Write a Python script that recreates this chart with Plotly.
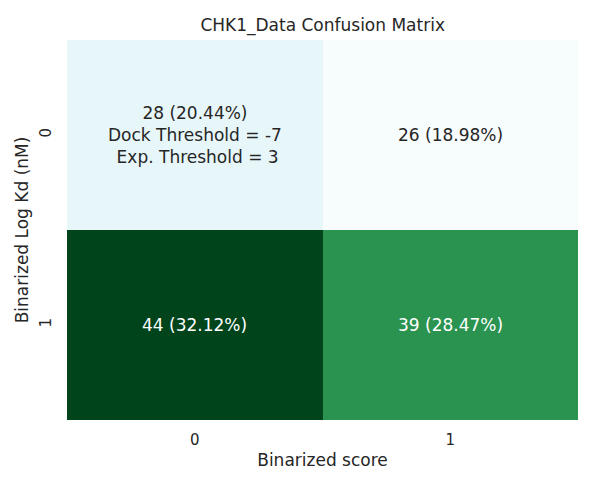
import plotly.graph_objects as go

# confusion matrix values
x_labels = ["0", "1"]
y_labels = ["0", "1"]
counts = [[28, 26],
          [44, 39]]
cell_text = [["28 (20.44%)<br>Dock Threshold = -7<br> Exp. Threshold = 3", "26 (18.98%)"],
             ["44 (32.12%)", "39 (28.47%)"]]

FONT = "DejaVu Sans"
zmin = min(min(r) for r in counts)
zmax = max(max(r) for r in counts)

fig = go.Figure()
fig.add_trace(go.Heatmap(
    z=counts, x=x_labels, y=y_labels,
    colorscale="BuGn", zmin=zmin, zmax=zmax,
    showscale=False, xgap=0, ygap=0, hoverinfo="skip",
))

mid = (zmin + zmax) / 2
for i, row in enumerate(counts):
    for j, v in enumerate(row):
        fig.add_annotation(
            x=x_labels[j], y=y_labels[i], text=cell_text[i][j],
            showarrow=False,
            font=dict(family=FONT, size=17, color="white" if v > mid else "#262626"),
        )

# page body adds an 8px offset, margins account for it
fig.update_layout(
    width=596, height=479,
    paper_bgcolor="white", plot_bgcolor="white",
    font=dict(family=FONT, color="#262626"),
    title=dict(text="CHK1_Data Confusion Matrix", x=0.528, xanchor="center",
               y=0.965, yanchor="middle", font=dict(size=17, color="#262626")),
    margin=dict(l=59, r=26, t=32, b=67),
)
fig.update_xaxes(title=dict(text="Binarized score", font=dict(size=17), standoff=6),
                 tickfont=dict(size=15), ticks="", ticklabelstandoff=9,
                 showgrid=False, zeroline=False)
fig.update_yaxes(title=dict(text="Binarized Log Kd (nM)", font=dict(size=17), standoff=4),
                 tickfont=dict(size=15), tickangle=-90, ticks="", ticklabelstandoff=12,
                 autorange="reversed", showgrid=False, zeroline=False)

fig.write_html("out.html")
